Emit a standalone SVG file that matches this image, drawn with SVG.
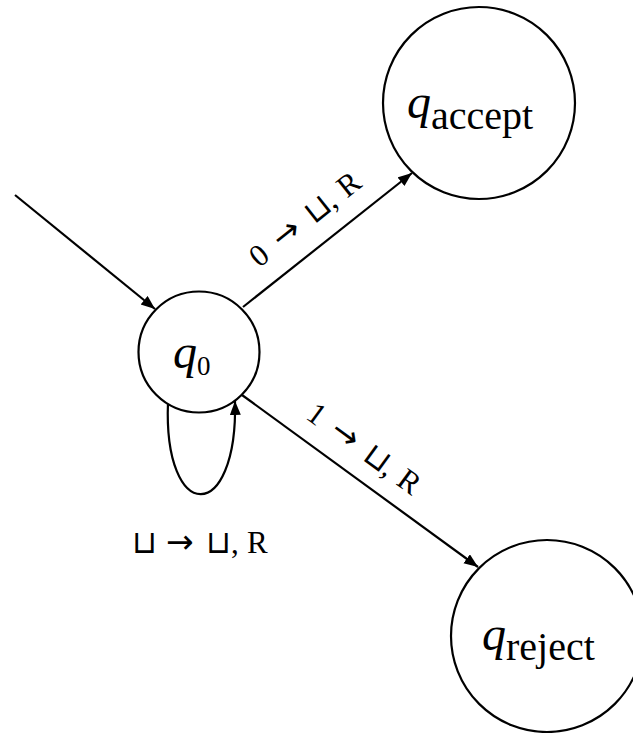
<svg xmlns="http://www.w3.org/2000/svg" width="633" height="733" viewBox="0 0 633 733">
  <style>
    .state { fill: #ffffff; stroke: #000000; stroke-width: 2.2; }
    .edge { fill: none; stroke: #000000; stroke-width: 2.2; marker-end: url(#arrow); }
    .math { font-family: "Liberation Serif", "DejaVu Serif", serif; fill: #000000; }
    .q { font-style: italic; font-size: 48px; }
    .sub { font-size: 40px; }
    .lbl { font-size: 31px; }
    .to { font-family: "DejaVu Sans", sans-serif; font-size: 33px; }
    .cup { font-family: "DejaVu Sans", sans-serif; font-size: 32px; }
  </style>
  <defs>
    <marker id="arrow" markerUnits="userSpaceOnUse" markerWidth="15" markerHeight="12" refX="14" refY="5.5" orient="auto">
      <path d="M0,0 L14,5.5 L0,11 Z" fill="#000000"/>
    </marker>
  </defs>
  <rect width="633" height="733" fill="#ffffff"/>

  <!-- transitions -->
  <g id="connectors">
    <line class="edge" x1="15" y1="195" x2="155" y2="309"/>
    <line class="edge" x1="243" y1="307" x2="412" y2="173"/>
    <line class="edge" x1="242" y1="395" x2="478" y2="567"/>
    <path class="edge" d="M168,402 C163,525 238,525 235,401"/>
    <text class="math lbl" transform="translate(304,220) rotate(-38.4)" y="10"><tspan x="-65">0</tspan><tspan class="to" x="-36">→</tspan><tspan class="cup" x="5">⊔</tspan><tspan x="29">,</tspan><tspan x="47">R</tspan></text>
    <text class="math lbl" transform="translate(363,448) rotate(36.1)" y="10"><tspan x="-65">1</tspan><tspan class="to" x="-36">→</tspan><tspan class="cup" x="5">⊔</tspan><tspan x="29">,</tspan><tspan x="47">R</tspan></text>
    <text class="math lbl" y="553"><tspan class="cup" x="132">⊔</tspan><tspan class="to" x="166">→</tspan><tspan class="cup" x="206">⊔</tspan><tspan x="231">,</tspan><tspan x="247">R</tspan></text>
  </g>

  <!-- states -->
  <g id="q0">
    <circle class="state" cx="199" cy="352" r="60.5"/>
    <text class="math" x="173" y="368"><tspan class="q">q</tspan><tspan font-size="27px" dy="7">0</tspan></text>
  </g>
  <g id="q_accept">
    <circle class="state" cx="479" cy="103" r="96"/>
    <text class="math" x="407" y="118"><tspan class="q">q</tspan><tspan class="sub" dy="11">accept</tspan></text>
  </g>
  <g id="q_reject">
    <circle class="state" cx="547" cy="636" r="96"/>
    <text class="math" x="482" y="650"><tspan class="q">q</tspan><tspan class="sub" dy="10">reject</tspan></text>
  </g>
</svg>
